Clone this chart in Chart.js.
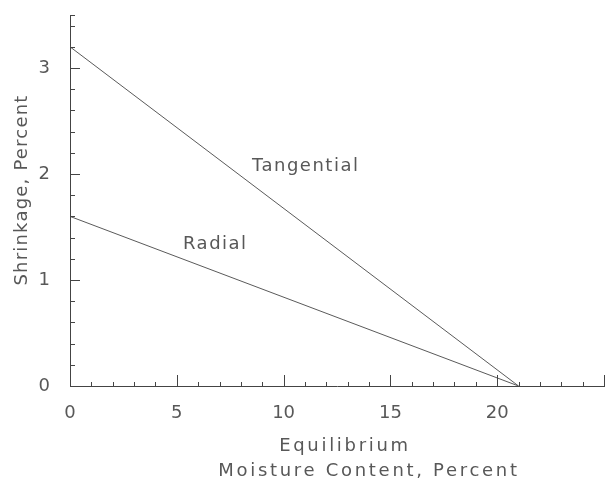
<!DOCTYPE html>
<html>
<head>
<meta charset="utf-8">
<script src="https://cdn.jsdelivr.net/npm/chart.js@4"></script>
<style>
  html, body { margin: 0; padding: 0; background: #fff; }
  #wrap { width: 605px; height: 489px; position: relative; }
</style>
</head>
<body>
<div id="wrap"><canvas id="shrinkChart"></canvas></div>
<script>
// equilibrium moisture content (%) vs shrinkage (%)
const tangentialX = [0, 21];
const tangentialY = [3.2, 0];
const radialX = [0, 21];
const radialY = [1.6, 0];

const xLabels = [0, 5, 10, 15, 20];
const yLabels = [0, 1, 2, 3];
const lineNames = ["Tangential", "Radial"];
const lineLabelAt = [[8.52, 2.075], [5.29, 1.34]];
const xTitle = ["Equilibrium", "Moisture Content, Percent"];
const yTitle = "Shrinkage, Percent";

const ink = "#444";
const textInk = "#585858";
const lineInk = "#5a5a5a";
const fontFamily = "'DejaVu Sans', 'Liberation Sans', sans-serif";

function toPoints(xs, ys) {
  return xs.map((x, i) => ({ x, y: ys[i] }));
}

// inward ticks, line labels and axis titles
const decorPlugin = {
  id: "decor",
  afterDraw(chart) {
    const { ctx, chartArea, scales } = chart;
    ctx.save();
    ctx.strokeStyle = ink;
    ctx.lineWidth = 1;
    ctx.beginPath();
    for (let v = 0; v <= 25; v += 1) {
      const x = Math.round(scales.x.getPixelForValue(v)) + 0.5;
      const len = v % 5 === 0 ? 11 : 4;
      ctx.moveTo(x, chartArea.bottom);
      ctx.lineTo(x, chartArea.bottom - len);
    }
    for (let i = 0; i <= 17; i++) {
      const y = Math.round(scales.y.getPixelForValue(i * 0.2)) + 0.5;
      const len = i % 5 === 0 ? 10 : 5;
      ctx.moveTo(chartArea.left, y);
      ctx.lineTo(chartArea.left + len, y);
    }
    const yTop = Math.round(scales.y.getPixelForValue(3.5)) + 0.5;
    ctx.moveTo(chartArea.left, yTop);
    ctx.lineTo(chartArea.left + 5, yTop);
    ctx.stroke();

    ctx.fillStyle = textInk;
    ctx.font = "18px " + fontFamily;
    ctx.letterSpacing = "1.5px";
    ctx.textBaseline = "middle";
    ctx.textAlign = "left";
    lineNames.forEach((name, i) => {
      const [lx, ly] = lineLabelAt[i];
      ctx.fillText(name, scales.x.getPixelForValue(lx), scales.y.getPixelForValue(ly));
    });

    ctx.textAlign = "center";
    ctx.letterSpacing = "2.7px";
    ctx.fillText(xTitle[0], 345, 446);
    ctx.fillText(xTitle[1], 369, 471);

    ctx.letterSpacing = "1.2px";
    ctx.translate(22, 190);
    ctx.rotate(-Math.PI / 2);
    ctx.fillText(yTitle, 0, 0);
    ctx.restore();
  }
};

new Chart(document.getElementById("shrinkChart"), {
  type: "line",
  data: {
    datasets: [
      {
        label: lineNames[0],
        data: toPoints(tangentialX, tangentialY),
        borderColor: lineInk,
        borderWidth: 1,
        pointRadius: 0,
        fill: false
      },
      {
        label: lineNames[1],
        data: toPoints(radialX, radialY),
        borderColor: lineInk,
        borderWidth: 1,
        pointRadius: 0,
        fill: false
      }
    ]
  },
  options: {
    responsive: true,
    maintainAspectRatio: false,
    animation: false,
    layout: { padding: { top: 15, right: 1, left: 0, bottom: 0 } },
    plugins: {
      legend: { display: false },
      tooltip: { enabled: false }
    },
    scales: {
      x: {
        type: "linear",
        min: 0,
        max: 25,
        afterFit(scale) {
          scale.height = 103;
          scale.paddingLeft = 0;
          scale.paddingRight = 0;
        },
        grid: { display: false, drawTicks: false },
        border: { display: true, color: ink, width: 1 },
        ticks: {
          stepSize: 5,
          padding: 17,
          color: textInk,
          font: { family: fontFamily, size: 18 },
          callback: (v) => (xLabels.includes(v) ? String(v) : "")
        }
      },
      y: {
        min: 0,
        max: 3.5,
        afterFit(scale) {
          scale.width = 70;
          scale.paddingTop = 0;
          scale.paddingBottom = 0;
        },
        grid: { display: false, drawTicks: false },
        border: { display: true, color: ink, width: 1 },
        ticks: {
          stepSize: 1,
          padding: 20,
          color: textInk,
          font: { family: fontFamily, size: 18 },
          callback: (v) => (yLabels.includes(v) ? String(v) : "")
        }
      }
    }
  },
  plugins: [decorPlugin]
});
</script>
</body>
</html>
